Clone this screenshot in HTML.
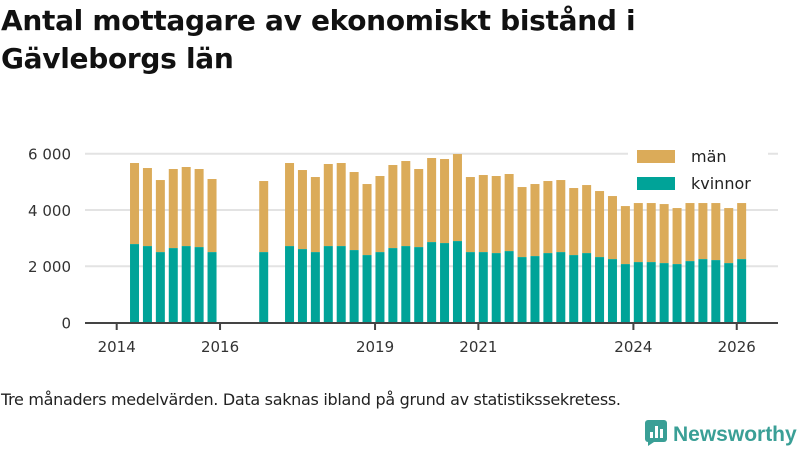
<!DOCTYPE html>
<html><head><meta charset="utf-8"><style>
body{margin:0;width:800px;height:450px;background:#fff;overflow:hidden;font-family:"DejaVu Sans",sans-serif;}
#title{position:absolute;left:1px;top:2px;font-size:28px;font-weight:bold;line-height:38px;color:#111;margin:0;letter-spacing:-0.3px;}
#note{position:absolute;left:1px;top:390px;font-size:16px;color:#222;letter-spacing:-0.3px;}
#logo{position:absolute;left:645px;top:420px;font-size:21px;font-weight:bold;color:#3a9f96;font-family:"Liberation Sans",sans-serif;}
</style></head><body>
<h1 id="title">Antal mottagare av ekonomiskt bistånd i<br>Gävleborgs län</h1>
<svg id="chart" width="800" height="450" style="position:absolute;left:0;top:0"></svg>
<div id="note">Tre månaders medelvärden. Data saknas ibland på grund av statistikssekretess.</div>
<div id="logo"><svg width="24" height="26" style="vertical-align:-5px;margin-right:4px"><rect x="0" y="0" width="22" height="22" rx="3" fill="#3a9f96"/><rect x="5" y="12" width="3" height="6" fill="#fff"/><rect x="10" y="6" width="3" height="12" fill="#fff"/><rect x="15" y="9" width="3" height="9" fill="#fff"/><polygon points="3,22 9,22 3,26" fill="#3a9f96"/></svg>Newsworthy</div>
<script>
const quarters=[1,2,3,4,5,6,7,11,13,14,15,16,17,18,19,20,21,22,23,24,25,26,27,28,29,30,31,32,33,34,35,36,37,38,39,40,41,42,43,44,45,46,47,48];
const totals=[5669,5491,5064,5456,5527,5456,5100,5029,5669,5420,5171,5634,5669,5349,4922,5207,5598,5740,5456,5847,5811,5989,5171,5242,5207,5278,4815,4922,5029,5064,4780,4886,4673,4495,4139,4246,4246,4210,4068,4246,4246,4246,4068,4246];
const kvinnor=[2787,2716,2502,2645,2716,2680,2502,2502,2716,2609,2502,2716,2716,2574,2396,2502,2645,2716,2680,2858,2823,2894,2502,2502,2467,2538,2325,2360,2467,2502,2396,2467,2325,2253,2076,2147,2147,2111,2076,2182,2253,2218,2111,2253];
const yTicks=[0,2000,4000,6000];
const yTickLabels=["0","2 000","4 000","6 000"];
const xTicks=[2014,2016,2019,2021,2024,2026];
const NS="http://www.w3.org/2000/svg";
const svg=document.getElementById('chart');
const x=t=>116.7+51.67*(t-2014);
const qTime=q=>2014.095+0.25*q;
const y=v=>322.5-v*168.8/6000;
function mk(tag,a,parent){const e=document.createElementNS(NS,tag);for(const k in a)e.setAttribute(k,a[k]);(parent||svg).appendChild(e);return e;}
const FF='DejaVu Sans, sans-serif';
yTicks.forEach((v,i)=>{
 if(v>0){const g=mk('line',{x1:85,x2:778,y1:y(v),y2:y(v),stroke:'#e3e3e3','stroke-width':2});
 
 }
 const t=mk('text',{x:71,y:y(v)+6,'text-anchor':'end','font-size':15,fill:'#333','font-family':FF});
 t.textContent=yTickLabels[i];
 
 
});
quarters.forEach((q,i)=>{
 const cx=x(qTime(q));
 const m=mk('rect',{x:cx-4.5,y:y(totals[i]),width:9,height:y(kvinnor[i])-y(totals[i]),fill:'#dbab59'});
 
 
 const k=mk('rect',{x:cx-4.5,y:y(kvinnor[i]),width:9,height:y(0)-y(kvinnor[i]),fill:'#00a398'});
 
 
});
const ax=mk('line',{x1:85,x2:778,y1:323,y2:323,stroke:'#444','stroke-width':2});


xTicks.forEach(t=>{
 const l=mk('line',{x1:x(t),x2:x(t),y1:323,y2:330,stroke:'#444','stroke-width':2});
 
 
 const tx=mk('text',{x:x(t),y:352,'text-anchor':'middle','font-size':15,fill:'#333','font-family':FF});
 tx.textContent=t;
 
 
});
const lg=mk('rect',{x:628,y:145,width:140,height:52,fill:'#fff'});


[['män','#dbab59',150],['kvinnor','#00a398',177]].forEach(([n,c,yy])=>{
 const s=mk('rect',{x:637,y:yy,width:38,height:13,fill:c});
 
 
 const t=mk('text',{x:691,y:yy+12,'font-size':16,fill:'#222','font-family':FF});
 t.textContent=n;
 
 
});
</script>
</body></html>
